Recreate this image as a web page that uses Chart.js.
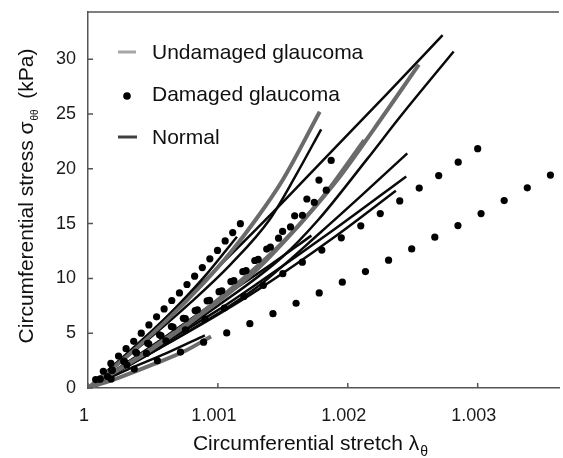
<!DOCTYPE html>
<html>
<head>
<meta charset="utf-8">
<script src="https://cdn.jsdelivr.net/npm/chart.js@4"></script>
<style>
  body { margin: 0; background: #fff; }
  #wrap { width: 563px; height: 458px; position: relative; }
</style>
</head>
<body>
<div id="wrap"><canvas id="stressChart"></canvas></div>
<script>
// Tick values
const xTicks = [1, 1.001, 1.002, 1.003];
const yTicks = [0, 5, 10, 15, 20, 25, 30];

// Damaged glaucoma (dots): [stretch, stress kPa]
const damaged1 = [[1.000059,0.77],[1.000118,1.53],[1.000176,2.24],[1.000235,2.92],[1.000293,3.59],[1.000352,4.26],[1.00041,5.0],[1.000469,5.75],[1.000528,6.49],[1.000586,7.21],[1.000645,7.98],[1.000704,8.67],[1.000762,9.44],[1.000821,10.2],[1.00088,10.99],[1.000938,11.78],[1.000997,12.55],[1.001056,13.42],[1.001114,14.18],[1.001173,14.99]];
const damaged2 = [[1.000178,0.82],[1.000356,1.73],[1.000534,2.49],[1.000712,3.28],[1.00089,4.18],[1.001068,5.02],[1.001246,5.87],[1.001424,6.78],[1.001602,7.73],[1.00178,8.67],[1.001958,9.65],[1.002136,10.62],[1.002314,11.66],[1.002492,12.69],[1.00267,13.76],[1.002848,14.82],[1.003026,15.91],[1.003204,17.1],[1.003382,18.26],[1.00356,19.42]];
const damaged3 = [[1.00015,1.05],[1.0003,2.1],[1.00045,3.15],[1.0006,4.3],[1.00075,5.3],[1.0009,6.3],[1.00105,7.3],[1.0012,8.35],[1.00135,9.37],[1.0015,10.43],[1.00165,11.48],[1.0018,12.58],[1.00195,13.7],[1.0021,14.79],[1.00225,15.91],[1.0024,17.07],[1.00255,18.24],[1.0027,19.38],[1.00285,20.6],[1.003,21.83]];
const damaged4 = [[1.000092,0.82],[1.000183,1.63],[1.000275,2.45],[1.000367,3.26],[1.000459,4.08],[1.00055,4.85],[1.000642,5.61],[1.000734,6.36],[1.000825,7.06],[1.000917,7.95],[1.001009,8.79],[1.0011,9.71],[1.001192,10.61],[1.001284,11.63],[1.001376,12.67],[1.001467,13.67],[1.001559,14.69],[1.001651,15.76],[1.001742,16.93],[1.001834,18.05]];
const damaged5 = [[1.000094,0.82],[1.000187,1.63],[1.000281,2.4],[1.000374,3.21],[1.000468,4.03],[1.000562,4.79],[1.000655,5.56],[1.000749,6.32],[1.000842,7.14],[1.000936,8.0],[1.00103,8.87],[1.001123,9.79],[1.001217,10.71],[1.00131,11.73],[1.001404,12.85],[1.001498,14.28],[1.001591,15.71],[1.001685,17.24],[1.001778,18.97],[1.001872,20.76]];

// Undamaged glaucoma (gray curves)
const undamaged1 = [[1,0],[1.0003,2.9],[1.0006,6.1],[1.0009,9.7],[1.0011,12.4],[1.001288,15.3],[1.0015,19.0],[1.001784,25.2]];
const undamaged2 = [[1,0],[1.0005,3.6],[1.001,7.85],[1.0013,10.8],[1.001567,14.1],[1.00192,19.0],[1.0022,23.6],[1.002547,29.5]];
const undamaged3 = [[1,0],[1.0005,3.7],[1.001,8.05],[1.0015,13.3],[1.0018,17.3],[1.002127,22.6]];
const undamaged4 = [[1,0],[1.00025,1.0],[1.0005,2.15],[1.00075,3.4],[1.000947,4.7]];

// Normal (black curves)
const normal1 = [[1,0],[1.0005,5.3],[1.001,11.0],[1.001389,15.6],[1.001868,21.5],[1.0023,26.8],[1.00273,32.2]];
const normal2 = [[1,0],[1.0005,3.5],[1.001,7.5],[1.0015,12.0],[1.00177,15.3],[1.00215,20.9],[1.0024,24.7],[1.002815,30.7]];
const normal3 = [[1,0],[1.0004,3.8],[1.0008,7.9],[1.0011,11.3],[1.0014,15.4],[1.0016,19.4],[1.001795,23.6]];
const normal4 = [[1,0],[1.0005,3.3],[1.001,6.8],[1.001313,9.3],[1.0018,14.3],[1.0021,17.5],[1.002458,21.4]];
const normal5 = [[1,0],[1.0005,3.5],[1.001,7.1],[1.001313,9.6],[1.0019,14.5],[1.00245,19.3]];
const normal6 = [[1,0],[1.0005,3.3],[1.001,6.7],[1.001313,9.0],[1.0019,13.8],[1.00237,18.0]];
const normal7 = [[1,0],[1.0005,3.9],[1.001,8.0],[1.0014,11.2],[1.00172,13.9]];
const normal8 = [[1,0],[1.0003,3.0],[1.0006,6.4],[1.0009,10.2],[1.001147,13.8]];
const normal9 = [[1,0],[1.0003,1.65],[1.0006,3.15],[1.0009,4.8]];

const damagedSets = [damaged1, damaged2, damaged3, damaged4, damaged5];
const undamagedSets = [undamaged1, undamaged2, undamaged3, undamaged4];
const normalSets = [normal1, normal2, normal3, normal4, normal5, normal6, normal7, normal8, normal9];

const FONT = "'Liberation Sans', Arial, sans-serif";
const toPts = arr => arr.map(p => ({ x: p[0], y: p[1] }));

const datasets = [];
// first dataset is drawn on top, so dots go first
damagedSets.forEach(d => datasets.push({
    data: toPts(d), showLine: false,
    pointRadius: 3.6, pointBackgroundColor: '#000', pointBorderWidth: 0
}));
undamagedSets.forEach(d => datasets.push({
    data: toPts(d), showLine: true, pointRadius: 0,
    borderColor: '#6b6b6b', borderWidth: 4, cubicInterpolationMode: 'monotone'
}));
normalSets.forEach(d => datasets.push({
    data: toPts(d), showLine: true, pointRadius: 0,
    borderColor: '#0a0a0a', borderWidth: 2.5, cubicInterpolationMode: 'monotone'
}));

// draws frame top, inward ticks, legend and axis titles with subscripts
const decorPlugin = {
    id: 'decor',
    afterDraw(chart) {
        const ctx = chart.ctx;
        const a = chart.chartArea;
        const xs = chart.scales.x, ys = chart.scales.y;
        ctx.save();
        ctx.strokeStyle = '#555';
        ctx.lineWidth = 1.5;
        ctx.beginPath();
        ctx.moveTo(a.left, a.top);
        ctx.lineTo(a.right, a.top);
        xTicks.forEach(v => {
            const px = xs.getPixelForValue(v);
            ctx.moveTo(px, a.bottom);
            ctx.lineTo(px, a.bottom - 5);
        });
        yTicks.forEach(v => {
            const py = ys.getPixelForValue(v);
            ctx.moveTo(a.left, py);
            ctx.lineTo(a.left + 5, py);
        });
        ctx.stroke();

        // legend
        ctx.lineWidth = 3;
        ctx.strokeStyle = '#a6a6a6';
        ctx.beginPath(); ctx.moveTo(118, 52); ctx.lineTo(136, 52); ctx.stroke();
        ctx.strokeStyle = '#404040';
        ctx.beginPath(); ctx.moveTo(118, 137); ctx.lineTo(137, 137); ctx.stroke();
        ctx.fillStyle = '#000';
        ctx.beginPath(); ctx.arc(127, 96, 3.8, 0, Math.PI * 2); ctx.fill();
        ctx.fillStyle = '#111';
        ctx.font = '21px ' + FONT;
        ctx.textBaseline = 'middle';
        ctx.textAlign = 'left';
        ctx.fillText('Undamaged glaucoma', 152, 53);
        ctx.fillText('Damaged glaucoma', 152, 95);
        ctx.fillText('Normal', 152, 138);

        // x title
        ctx.textBaseline = 'alphabetic';
        const xMain = 'Circumferential stretch \u03bb';
        ctx.font = '21px ' + FONT;
        const wMain = ctx.measureText(xMain).width;
        ctx.font = '14px ' + FONT;
        const wSub = ctx.measureText('\u03b8').width;
        const x0 = 310 - (wMain + wSub) / 2;
        ctx.font = '21px ' + FONT;
        ctx.fillText(xMain, x0, 450);
        ctx.font = '14px ' + FONT;
        ctx.fillText('\u03b8', x0 + wMain + 1, 456);

        // y title (rotated)
        ctx.translate(33, 196);
        ctx.rotate(-Math.PI / 2);
        const p1 = 'Circumferential stress \u03c3', p2 = '\u03b8\u03b8', p3 = '  (kPa)';
        ctx.font = '21px ' + FONT;
        const w1 = ctx.measureText(p1).width, w3 = ctx.measureText(p3).width;
        ctx.font = '10px ' + FONT;
        const w2 = ctx.measureText(p2).width;
        const y0 = -(w1 + w2 + w3) / 2;
        ctx.font = '21px ' + FONT;
        ctx.fillText(p1, y0, 0);
        ctx.font = '10px ' + FONT;
        ctx.fillText(p2, y0 + w1 + 1, 5);
        ctx.font = '21px ' + FONT;
        ctx.fillText(p3, y0 + w1 + w2, 0);
        ctx.restore();
    }
};

new Chart(document.getElementById('stressChart'), {
    type: 'scatter',
    data: { datasets: datasets },
    options: {
        responsive: true,
        maintainAspectRatio: false,
        animation: false,
        layout: { padding: { top: 12, left: 0, right: 0, bottom: 0 } },
        plugins: { legend: { display: false }, tooltip: { enabled: false } },
        scales: {
            x: {
                type: 'linear',
                min: 1,
                max: 1.003626,
                afterBuildTicks: s => { s.ticks = xTicks.map(v => ({ value: v })); },
                afterFit: s => { s.height = 70; s.paddingLeft = 0; s.paddingRight = 0; },
                grid: { display: false, drawTicks: false },
                border: { display: true, color: '#555', width: 1.5 },
                ticks: {
                    padding: 17,
                    labelOffset: -4,
                    color: '#1a1a1a',
                    font: { family: FONT, size: 18 },
                    maxRotation: 0,
                    callback: v => (v === 1 ? '1' : v.toFixed(3))
                }
            },
            y: {
                type: 'linear',
                min: 0,
                max: 34.3,
                afterBuildTicks: s => { s.ticks = yTicks.map(v => ({ value: v })); },
                afterFit: s => { s.width = 88; s.paddingTop = 0; s.paddingBottom = 0; },
                grid: { display: false, drawTicks: false },
                border: { display: true, color: '#555', width: 1.5 },
                ticks: {
                    padding: 12,
                    color: '#1a1a1a',
                    font: { family: FONT, size: 18 },
                    callback: v => String(v)
                }
            }
        }
    },
    plugins: [decorPlugin]
});
</script>
</body>
</html>
